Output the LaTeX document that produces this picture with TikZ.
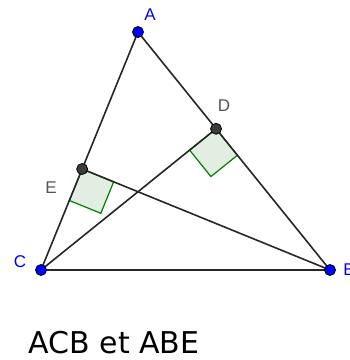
\documentclass[tikz,border=0pt]{standalone}
\usepackage{fontspec}
\setmainfont{Liberation Sans}
\newfontfamily\captionfont{DejaVu Sans}
\usepackage{tikz}
\usetikzlibrary{calc,positioning}
\definecolor{ptblue}{RGB}{0,0,255}
\definecolor{ptgray}{RGB}{60,60,60}
\definecolor{lblgray}{RGB}{85,85,85}
\definecolor{angfill}{RGB}{226,238,226}
\definecolor{anggreen}{RGB}{0,125,0}

\begin{document}
\begin{tikzpicture}[x=1pt, y=-1pt,
    seg/.style={draw=black!85, line width=1.6pt},
    ptfree/.style={circle, fill=ptblue, draw=black, line width=0.8pt,
                   inner sep=0pt, minimum size=11pt},
    ptdep/.style={circle, fill=ptgray, draw=black, line width=0.8pt,
                  inner sep=0pt, minimum size=11pt},
    lblfree/.style={text=ptblue, font=\fontsize{17}{17}\selectfont},
    lbldep/.style={text=lblgray, font=\fontsize{17}{17}\selectfont},
    rightang/.style={fill=angfill, draw=anggreen, line width=1.2pt}]
  \useasboundingbox (0,0) rectangle (350,360);
  % triangle and feet of the altitudes
  \coordinate (A) at (138,32);
  \coordinate (B) at (330,270);
  \coordinate (C) at (41,270);
  \coordinate (D) at ($(A)!(C)!(B)$);
  \coordinate (E) at ($(A)!(B)!(C)$);
  % right angle marks
  \coordinate (D1) at ($(D)!34pt!(C)$);
  \coordinate (D2) at ($(D)!34pt!(B)$);
  \coordinate (E1) at ($(E)!34pt!(B)$);
  \coordinate (E2) at ($(E)!34pt!(C)$);
  \draw[rightang] (D) -- (D1) -- ($(D1)+(D2)-(D)$) -- (D2) -- cycle;
  \draw[rightang] (E) -- (E1) -- ($(E1)+(E2)-(E)$) -- (E2) -- cycle;
  % segments
  \draw[seg] (A) -- (B) -- (C) -- cycle;
  \draw[seg] (C) -- (D);
  \draw[seg] (B) -- (E);
  % points
  \node[ptfree] (dotA) at (A) {};
  \node[ptfree] (dotB) at (B) {};
  \node[ptfree] (dotC) at (C) {};
  \node[ptdep] (dotD) at (D) {};
  \node[ptdep] (dotE) at (E) {};
  % labels
  \node[lblfree] (labA) at (150,15) {A};
  \node[lblfree] (labB) at (349,270) {B};
  \node[lblfree] (labC) at (20,262) {C};
  \node[lbldep] (labD) at (224,106) {D};
  \node[lbldep] (labE) at (51,188) {E};
  \node[font=\captionfont\fontsize{30}{30}\selectfont] (caption) at (114,343)
    {ACB et ABE};
\end{tikzpicture}
\end{document}
